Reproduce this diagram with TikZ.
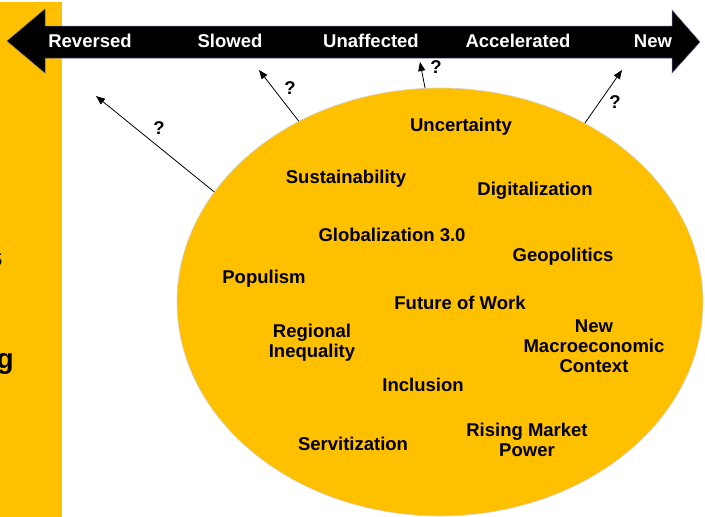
\documentclass[tikz,border=0pt]{standalone}
\usepackage{fontspec}
\setmainfont{Liberation Sans}
\usepackage{xcolor}
\usepackage{tikz}
\usetikzlibrary{shapes.geometric, arrows.meta, positioning, calc}
\definecolor{gold}{HTML}{FFC000}
\tikzset{topic/.style={font=\bfseries\fontsize{18.5}{20}\selectfont,inner sep=0pt,text height=13.5pt,text depth=3.9pt},
         multitopic/.style={font=\bfseries\fontsize{18.5}{20}\selectfont,inner sep=0pt,align=center},
         scalelabel/.style={topic,text=white},
         qmark/.style={topic},
         edgetext/.style={font=\bfseries\fontsize{28}{30}\selectfont,inner sep=0pt,anchor=base east},
         bubble/.style={ellipse,fill=gold,draw=gray!35,line width=0.6pt,minimum width=526pt,minimum height=428pt,inner sep=0pt},
         scalebar/.style={fill=black,draw=blue!25!gray,line width=0.5pt},
         arrow/.style={-{Triangle[length=9pt,width=7pt]},line width=0.8pt}}
\begin{document}
\begin{tikzpicture}[x=1pt,y=-1pt]
    \useasboundingbox (0,0) rectangle (705,517);
    \clip (0,0) rectangle (705,517);
    % left band
    \fill[gold] (0,2) rectangle (62,517);
    \node (cut1) [edgetext] at (3,266) {s};
    \node (cut2) [edgetext] at (14,368) {g};
    % scale
    \draw[scalebar] (7,41) -- (45,9) -- (45,26) -- (672,26) -- (672,10) -- (700,42)
        -- (672,73) -- (672,58) -- (45,58) -- (45,73) -- cycle;
    \node (rev) [scalelabel] at (90,43) {Reversed};
    \node (slow) [scalelabel] at (230,43) {Slowed};
    \node (unaff) [scalelabel] at (371,43) {Unaffected};
    \node (acc) [scalelabel] at (518,43) {Accelerated};
    \node (new) [scalelabel] at (653,43) {New};
    % topics
    \node (topics) [bubble] at (440,302) {};
    \node (unc) [topic] at (461,127) {Uncertainty};
    \node (sus) [topic] at (346,179) {Sustainability};
    \node (dig) [topic] at (535,191) {Digitalization};
    \node (glob) [topic] at (392,237) {Globalization 3.0};
    \node (geo) [topic] at (563,257) {Geopolitics};
    \node (pop) [topic] at (264,279) {Populism};
    \node (work) [topic] at (460,305) {Future of Work};
    \node (ineq) [multitopic] at (312,342.5) {Regional\\Inequality};
    \node (macro) [multitopic] at (594,346) {New\\Macroeconomic\\Context};
    \node (incl) [topic] at (423,387) {Inclusion};
    \node (serv) [topic] at (353,446) {Servitization};
    \node (power) [multitopic] at (527,440) {Rising Market\\Power};
    % where do they go
    \coordinate (t1) at (96,96);
    \coordinate (t2) at (259,70);
    \coordinate (t3) at (420,62);
    \coordinate (t4) at (622,70);
    \draw[arrow] (topics.154.4) -- (t1);
    \draw[arrow] (topics.128.4) -- (t2);
    \draw[arrow] (topics.94.5) -- (t3);
    \draw[arrow] (topics.51.2) -- (t4);
    \node (q1) [qmark] at (159,130) {?};
    \node (q2) [qmark] at (290,90) {?};
    \node (q3) [qmark] at (436,69) {?};
    \node (q4) [qmark] at (615,104) {?};
  \end{tikzpicture}
\end{document}
